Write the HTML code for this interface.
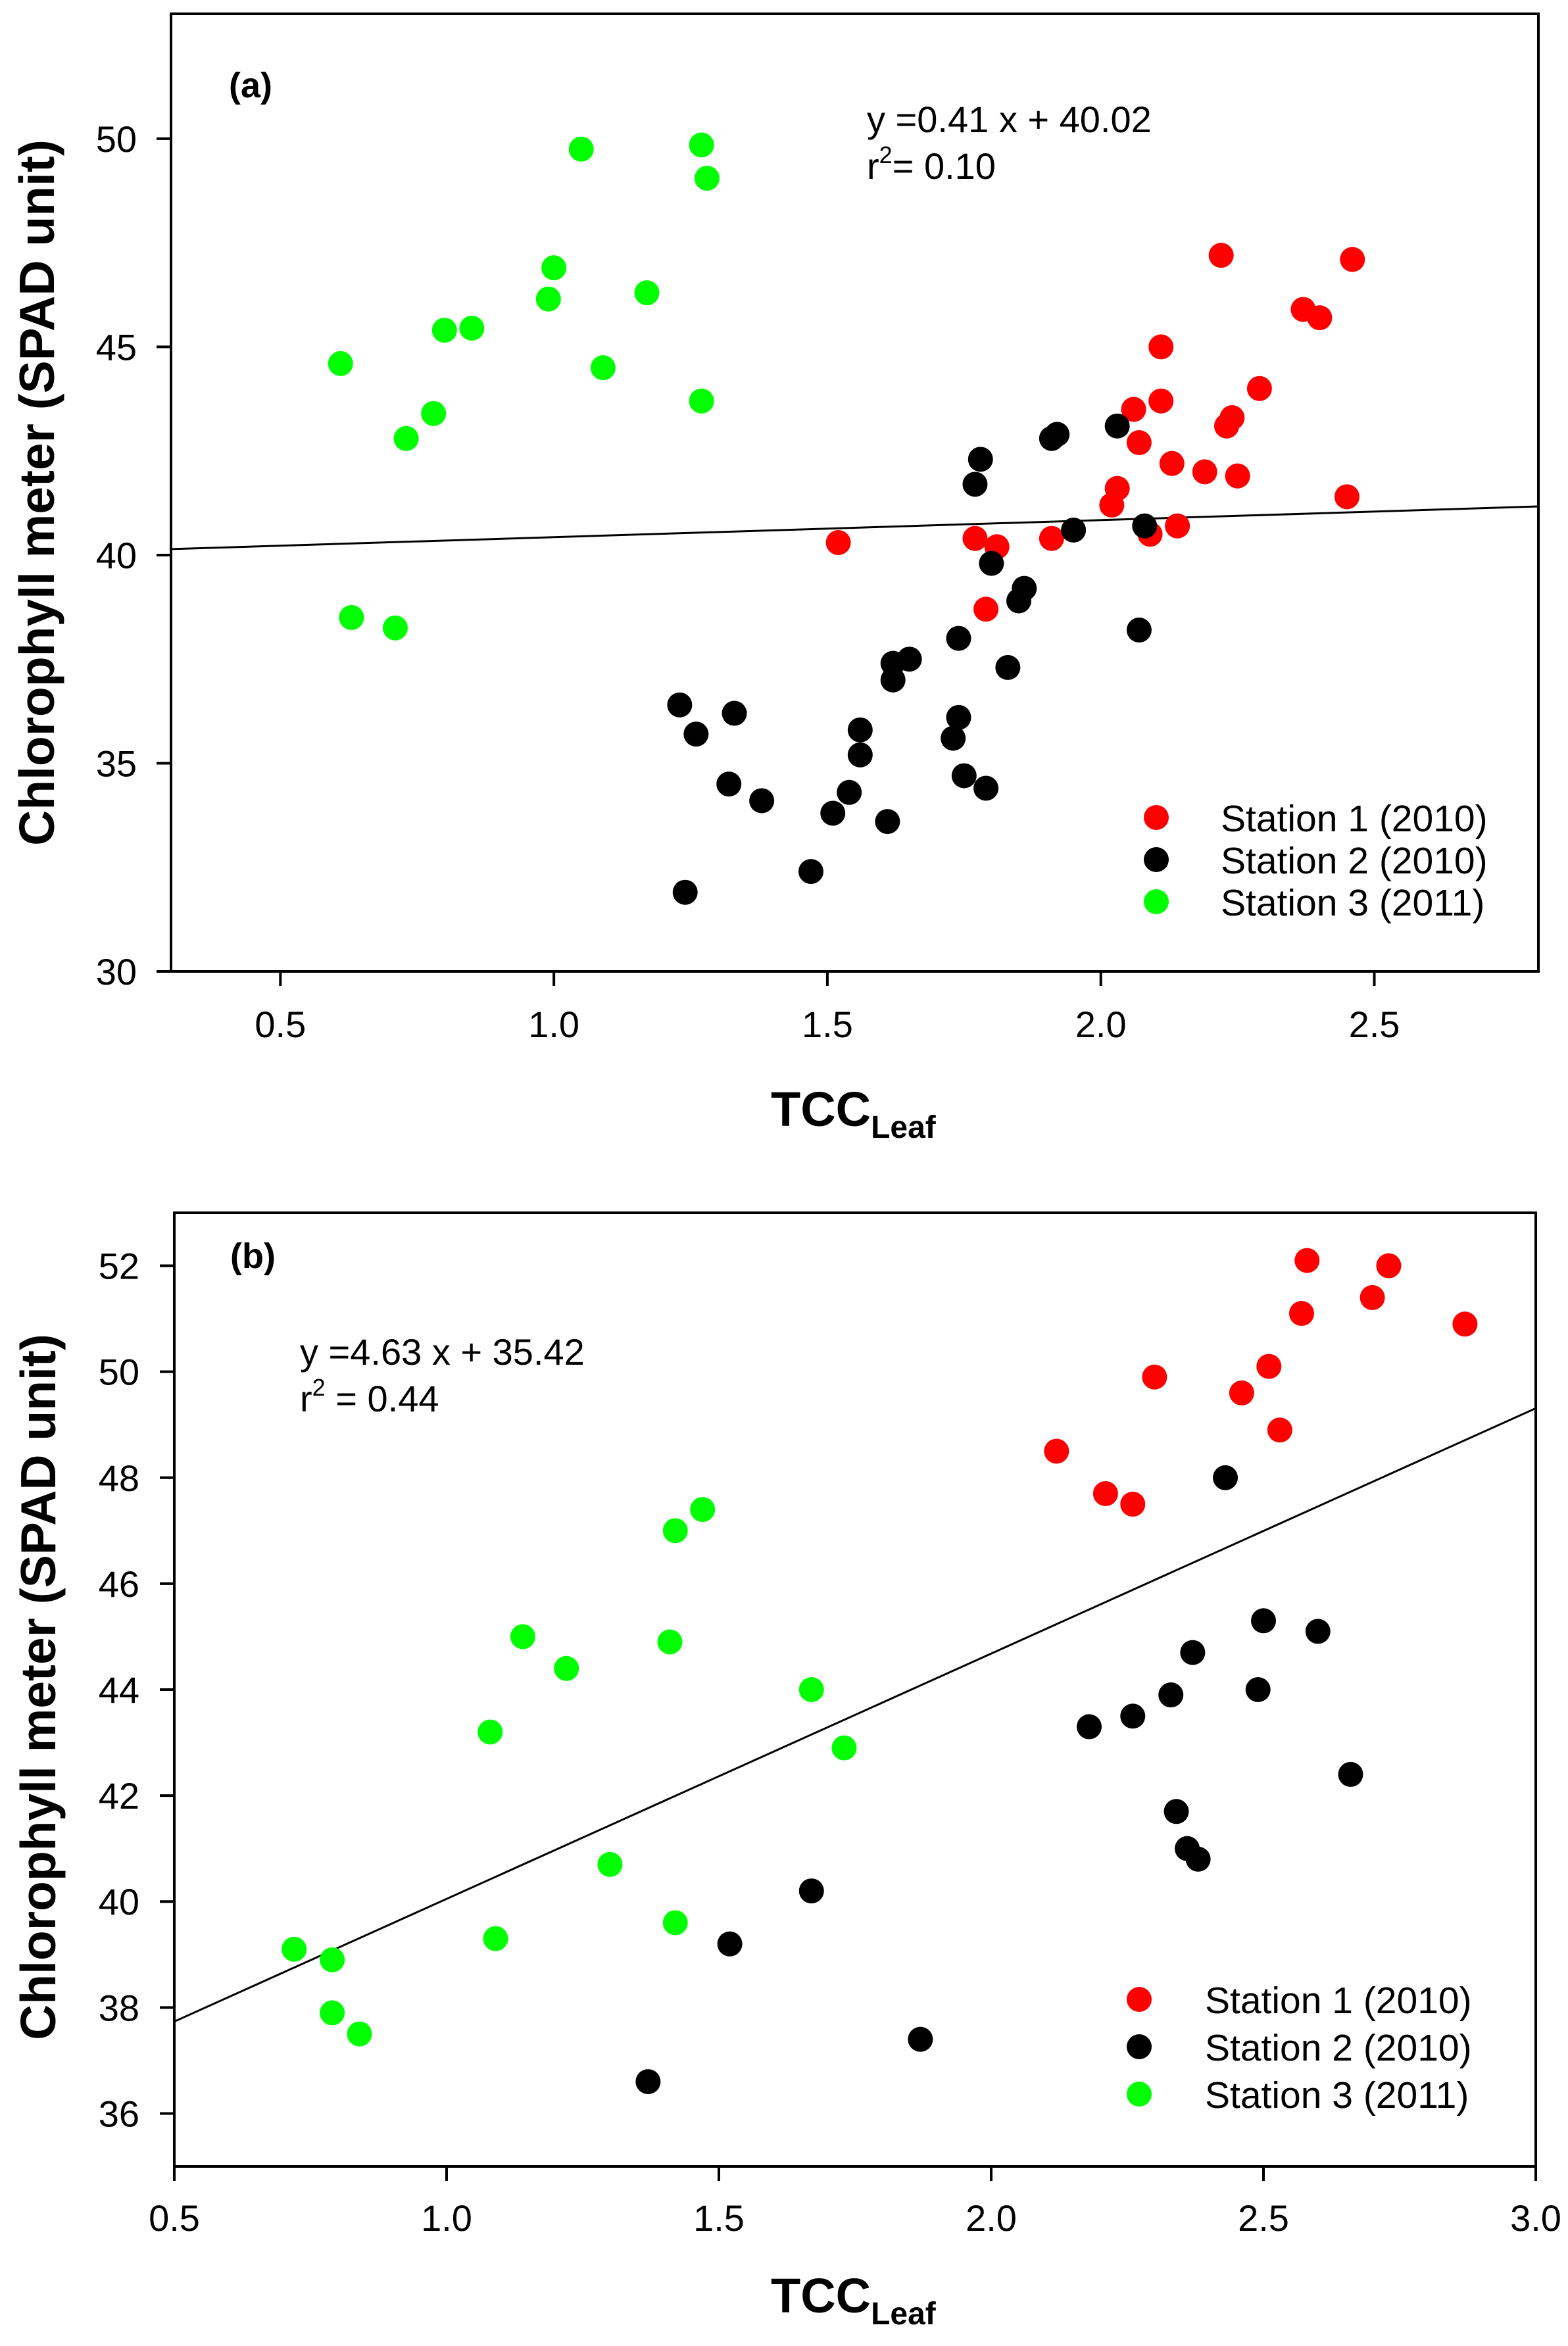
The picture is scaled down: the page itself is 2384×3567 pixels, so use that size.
<!DOCTYPE html>
<html><head><meta charset="utf-8"><style>
html,body{margin:0;padding:0;background:#fff}
svg{display:block}
text{font-family:"Liberation Sans",Arial,sans-serif;fill:#000}
</style></head><body>
<svg id="fig" width="2384" height="3567" viewBox="0 0 2384 3567" xmlns="http://www.w3.org/2000/svg"></svg>
<script>
// ---------- Panel (a) data ----------
const aRedX = [1.52,1.77,1.81,1.79,1.91,2.02,2.03,2.06,2.07,2.09,2.11,2.11,2.13,2.14,2.19,2.22,2.23,2.24,2.25,2.29,2.37,2.40,2.46,2.45];
const aRedY = [40.3,40.4,40.2,38.7,40.4,41.2,41.6,43.5,42.7,40.5,45.0,43.7,42.2,40.7,42.0,47.2,43.1,43.3,41.9,44.0,45.9,45.7,47.1,41.4];
const aBlackX = [1.23,1.24,1.26,1.33,1.32,1.38,1.47,1.51,1.54,1.56,1.56,1.61,1.62,1.62,1.65,1.74,1.74,1.73,1.75,1.79,1.77,1.78,1.80,1.83,1.85,1.86,1.91,1.92,1.95,2.03,2.07,2.08];
const aBlackY = [36.4,31.9,35.7,36.2,34.5,34.1,32.4,33.8,34.3,35.8,35.2,33.6,37.4,37.0,37.5,38.0,36.1,35.6,34.7,34.4,41.7,42.3,39.8,37.3,38.9,39.2,42.8,42.9,40.6,43.1,38.2,40.7];
const aGreenX = [0.61,0.63,0.71,0.73,0.78,0.80,0.85,0.99,1.00,1.05,1.09,1.17,1.27,1.28,1.27];
const aGreenY = [44.6,38.5,38.25,42.8,43.4,45.4,45.45,46.15,46.9,49.75,44.5,46.3,49.85,49.05,43.7];
const aXTicks = [0.5,1.0,1.5,2.0,2.5];
const aXTickLabels = ["0.5","1.0","1.5","2.0","2.5"];
const aYTicks = [30,35,40,45,50];
const aYTickLabels = ["30","35","40","45","50"];
const aFit = [0.41, 40.02];

// ---------- Panel (b) data ----------
const bRedX = [2.12,2.21,2.26,2.30,2.46,2.51,2.53,2.57,2.58,2.70,2.73,2.87];
const bRedY = [48.5,47.7,47.5,49.9,49.6,50.1,48.9,51.1,52.1,51.4,52.0,50.9];
const bBlackX = [1.37,1.52,1.67,1.87,2.18,2.26,2.33,2.34,2.36,2.38,2.37,2.43,2.49,2.50,2.60,2.66];
const bBlackY = [36.6,39.2,40.2,37.4,43.3,43.5,43.9,41.7,41.0,40.8,44.7,48.0,44.0,45.3,45.1,42.4];
const bGreenX = [0.72,0.79,0.79,0.84,1.09,1.08,1.14,1.22,1.30,1.42,1.41,1.42,1.47,1.67,1.73];
const bGreenY = [39.1,38.9,37.9,37.5,39.3,43.2,45.0,44.4,40.7,39.6,44.9,47.0,47.4,44.0,42.9];
const bXTicks = [0.5,1.0,1.5,2.0,2.5,3.0];
const bXTickLabels = ["0.5","1.0","1.5","2.0","2.5","3.0"];
const bYTicks = [36,38,40,42,44,46,48,50,52];
const bYTickLabels = ["36","38","40","42","44","46","48","50","52"];
const bFit = [4.63, 35.42];

const legendLabels = ["Station 1 (2010)","Station 2 (2010)","Station 3 (2011)"];
const seriesColors = ["#ff0000","#000000","#00ff00"];

const NS = "http://www.w3.org/2000/svg";
const svg = document.getElementById('fig');
function mk(tag, attrs, parent, txt){
  const e = document.createElementNS(NS, tag);
  for (const k in attrs) e.setAttribute(k, attrs[k]);
  if (txt !== undefined) e.textContent = txt;
  (parent || svg).appendChild(e);
  return e;
}

function panel(cfg){
  const g = mk('g', {});
  
  
  const L=cfg.L,R=cfg.R,T=cfg.T,B=cfg.B;
  const sx = v => L + (v - cfg.x0) / (cfg.x1 - cfg.x0) * (R - L);
  const sy = v => B - (v - cfg.y0) / (cfg.y1 - cfg.y0) * (B - T);

  const fr = mk('rect', {x:L,y:T,width:R-L,height:B-T,fill:'none',stroke:'#000','stroke-width':4}, g);
  
  

  cfg.xt.forEach((v,i)=>{
    const tk = mk('line',{x1:sx(v),x2:sx(v),y1:B,y2:B+22,stroke:'#000','stroke-width':4},g);
    
    
    const tl = mk('text',{x:sx(v),y:cfg.xLabY,'text-anchor':'middle','font-size':56},g,cfg.xtl[i]);
    
    
  });
  cfg.yt.forEach((v,i)=>{
    const tk = mk('line',{x1:L-22,x2:L,y1:sy(v),y2:sy(v),stroke:'#000','stroke-width':4},g);
    
    
    const tl = mk('text',{x:cfg.yLabX,y:sy(v)+20,'text-anchor':'end','font-size':56},g,cfg.ytl[i]);
    
    
  });

  const rl = mk('line',{x1:sx(cfg.x0),y1:sy(cfg.fit[0]*cfg.x0+cfg.fit[1]),x2:sx(cfg.x1),y2:sy(cfg.fit[0]*cfg.x1+cfg.fit[1]),stroke:'#000','stroke-width':3},g);
  
  

  const names = ['station-1-point','station-2-point','station-3-point'];
  cfg.series.forEach((s,si)=>{
    s[0].forEach((xv,j)=>{
      const c = mk('ellipse',{cx:sx(xv),cy:sy(s[1][j]),rx:19,ry:19,fill:seriesColors[si]},g);
      
      
    });
  });

  const pl = mk('text',{x:cfg.lblX,y:cfg.lblY,'font-size':54,'font-weight':'bold'},g,cfg.lbl);
  
  

  const eq = mk('text',{x:cfg.eqX,y:cfg.eqY,'font-size':56},g,cfg.eq);
  
  
  const r2 = mk('text',{x:cfg.eqX,y:cfg.eqY+71,'font-size':56},g);
  
  
  mk('tspan',{},r2,'r');
  mk('tspan',{dy:-24,'font-size':36},r2,'2');
  mk('tspan',{dy:24},r2,cfg.r2);

  const lg = mk('g',{},g);
  
  
  legendLabels.forEach((t,i)=>{
    const yy = cfg.legY + i*cfg.legDy;
    const m = mk('ellipse',{cx:cfg.legMX,cy:yy,rx:19,ry:19,fill:seriesColors[i]},lg);
    
    
    const tt = mk('text',{x:cfg.legTX,y:yy+21,'font-size':57},lg,t);
    
    
  });

  const yt = mk('text',{x:0,y:0,'font-size':75,'font-weight':'bold','text-anchor':'middle',transform:`translate(${cfg.yTitleX},${cfg.yTitleY}) rotate(-90)`},g,'Chlorophyll meter (SPAD unit)');
  
  

  const xt = mk('text',{x:cfg.xTitleX,y:cfg.xTitleY,'font-size':74,'font-weight':'bold'},g);
  
  
  mk('tspan',{},xt,'TCC');
  mk('tspan',{dy:18,'font-size':48},xt,'Leaf');
}

panel({name:'panel-a',L:260,R:2339,T:21,B:1477,x0:0.3,x1:2.8,y0:30,y1:53,
  xt:aXTicks,xtl:aXTickLabels,yt:aYTicks,ytl:aYTickLabels,fit:aFit,
  series:[[aRedX,aRedY],[aBlackX,aBlackY],[aGreenX,aGreenY]],
  xLabY:1577,yLabX:208,lbl:'(a)',lblX:348,lblY:148,
  eq:'y =0.41 x + 40.02',r2:'= 0.10',eqX:1318,eqY:201,
  legY:1243,legDy:64,legMX:1758,legTX:1856,
  yTitleX:82,yTitleY:749,xTitleX:1172,xTitleY:1712});

panel({name:'panel-b',L:265,R:2335,T:1844,B:3294,x0:0.5,x1:3.0,y0:35,y1:53,
  xt:bXTicks,xtl:bXTickLabels,yt:bYTicks,ytl:bYTickLabels,fit:bFit,
  series:[[bRedX,bRedY],[bBlackX,bBlackY],[bGreenX,bGreenY]],
  xLabY:3392,yLabX:212,lbl:'(b)',lblX:350,lblY:1928,
  eq:'y =4.63 x + 35.42',r2:' = 0.44',eqX:456,eqY:2075,
  legY:3040,legDy:72,legMX:1732,legTX:1832,
  yTitleX:84,yTitleY:2565,xTitleX:1172,xTitleY:3516});
</script>
</body></html>
